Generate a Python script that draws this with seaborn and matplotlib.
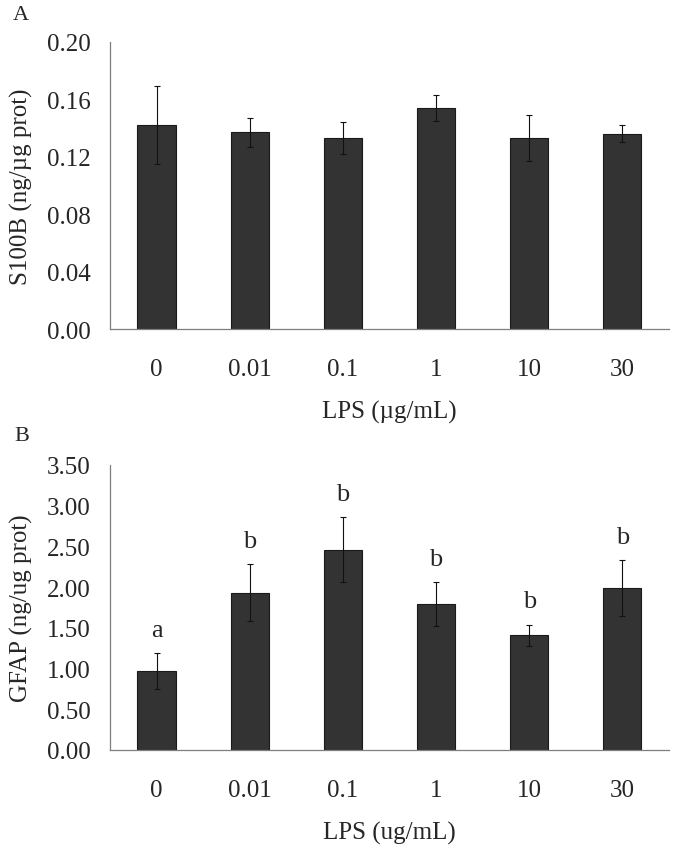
import numpy as np
import pandas as pd
import matplotlib
matplotlib.use("Agg")
import matplotlib.pyplot as plt
from matplotlib.ticker import FixedLocator, MultipleLocator, FormatStrFormatter
import seaborn as sns

# values
doses = ["0", "0.01", "0.1", "1", "10", "30"]
s100b_mean = [0.142, 0.137, 0.133, 0.154, 0.133, 0.136]
s100b_se = [0.027, 0.010, 0.011, 0.009, 0.016, 0.006]
gfap_mean = [0.97, 1.93, 2.46, 1.79, 1.41, 1.99]
gfap_se = [0.22, 0.35, 0.40, 0.27, 0.13, 0.34]
gfap_letters = ["a", "b", "b", "b", "b", "b"]

bar_color = "#333333"
spine_color = "#7f7f7f"


def draw_panel(ax, means, ses, ymax, ystep, ylabel, xlabel, letters=None):
    df = pd.DataFrame({"dose": doses, "mean": means})
    sns.barplot(data=df, x="dose", y="mean", order=doses, color=bar_color,
                width=0.41, edgecolor="#1a1a1a", linewidth=0.8,
                saturation=1, errorbar=None, ax=ax)
    xpos = np.arange(len(doses))
    ax.errorbar(xpos, means, yerr=ses, fmt="none", ecolor="#111111",
                elinewidth=0.8, capsize=2.3, capthick=0.8, zorder=5)
    if letters is not None:
        for i, lab in enumerate(letters):
            ax.annotate(lab, (xpos[i], means[i] + ses[i]), xytext=(0, 9),
                        textcoords="offset points", ha="center",
                        va="bottom", fontsize=19)

    ax.set_xlim(-0.5, len(doses) - 0.5)
    ax.set_ylim(0, ymax)
    ax.yaxis.set_major_locator(MultipleLocator(ystep))
    ax.yaxis.set_major_formatter(FormatStrFormatter("%.2f"))

    # category boundary ticks, labels on centred minor ticks
    ax.xaxis.set_major_locator(FixedLocator(np.arange(-0.5, len(doses), 1.0)))
    ax.xaxis.set_minor_locator(FixedLocator(xpos))
    ax.set_xticklabels([], minor=False)
    ax.set_xticklabels(doses, minor=True)
    ax.tick_params(axis="x", which="major", direction="out", length=5,
                   width=0.9, color=spine_color)
    ax.tick_params(axis="x", which="minor", length=0, pad=21, labelsize=18)
    ax.tick_params(axis="y", direction="out", length=6, width=0.9,
                   color=spine_color, pad=8, labelsize=18)

    for side in ["top", "right"]:
        ax.spines[side].set_visible(False)
    for side in ["left", "bottom"]:
        ax.spines[side].set_color(spine_color)
        ax.spines[side].set_linewidth(0.9)

    ax.set_ylabel(ylabel, fontsize=18)
    ax.yaxis.set_label_coords(-0.138, 0.5)
    ax.set_xlabel(xlabel, fontsize=18, labelpad=14)


def main():
    sns.set_style("white")
    plt.rcParams["font.family"] = ["Liberation Serif", "DejaVu Serif"]

    fig = plt.figure(figsize=(6.85, 8.53), dpi=100)
    ax1 = fig.add_axes([0.1606, 0.6131, 0.816, 0.3365])
    ax2 = fig.add_axes([0.1606, 0.1196, 0.816, 0.3341])

    draw_panel(ax1, s100b_mean, s100b_se, 0.20, 0.04,
               "S100B (ng/\u00b5g prot)", "LPS (\u00b5g/mL)")
    draw_panel(ax2, gfap_mean, gfap_se, 3.50, 0.50,
               "GFAP (ng/ug prot)", "LPS (ug/mL)", letters=gfap_letters)

    fig.text(21 / 685, 1 - 15 / 853, "A", fontsize=16, ha="center", va="center")
    fig.text(22 / 685, 1 - 437 / 853, "B", fontsize=16, ha="center", va="center")

    fig.savefig("out.png", dpi=100)


if __name__ == "__main__":
    main()
